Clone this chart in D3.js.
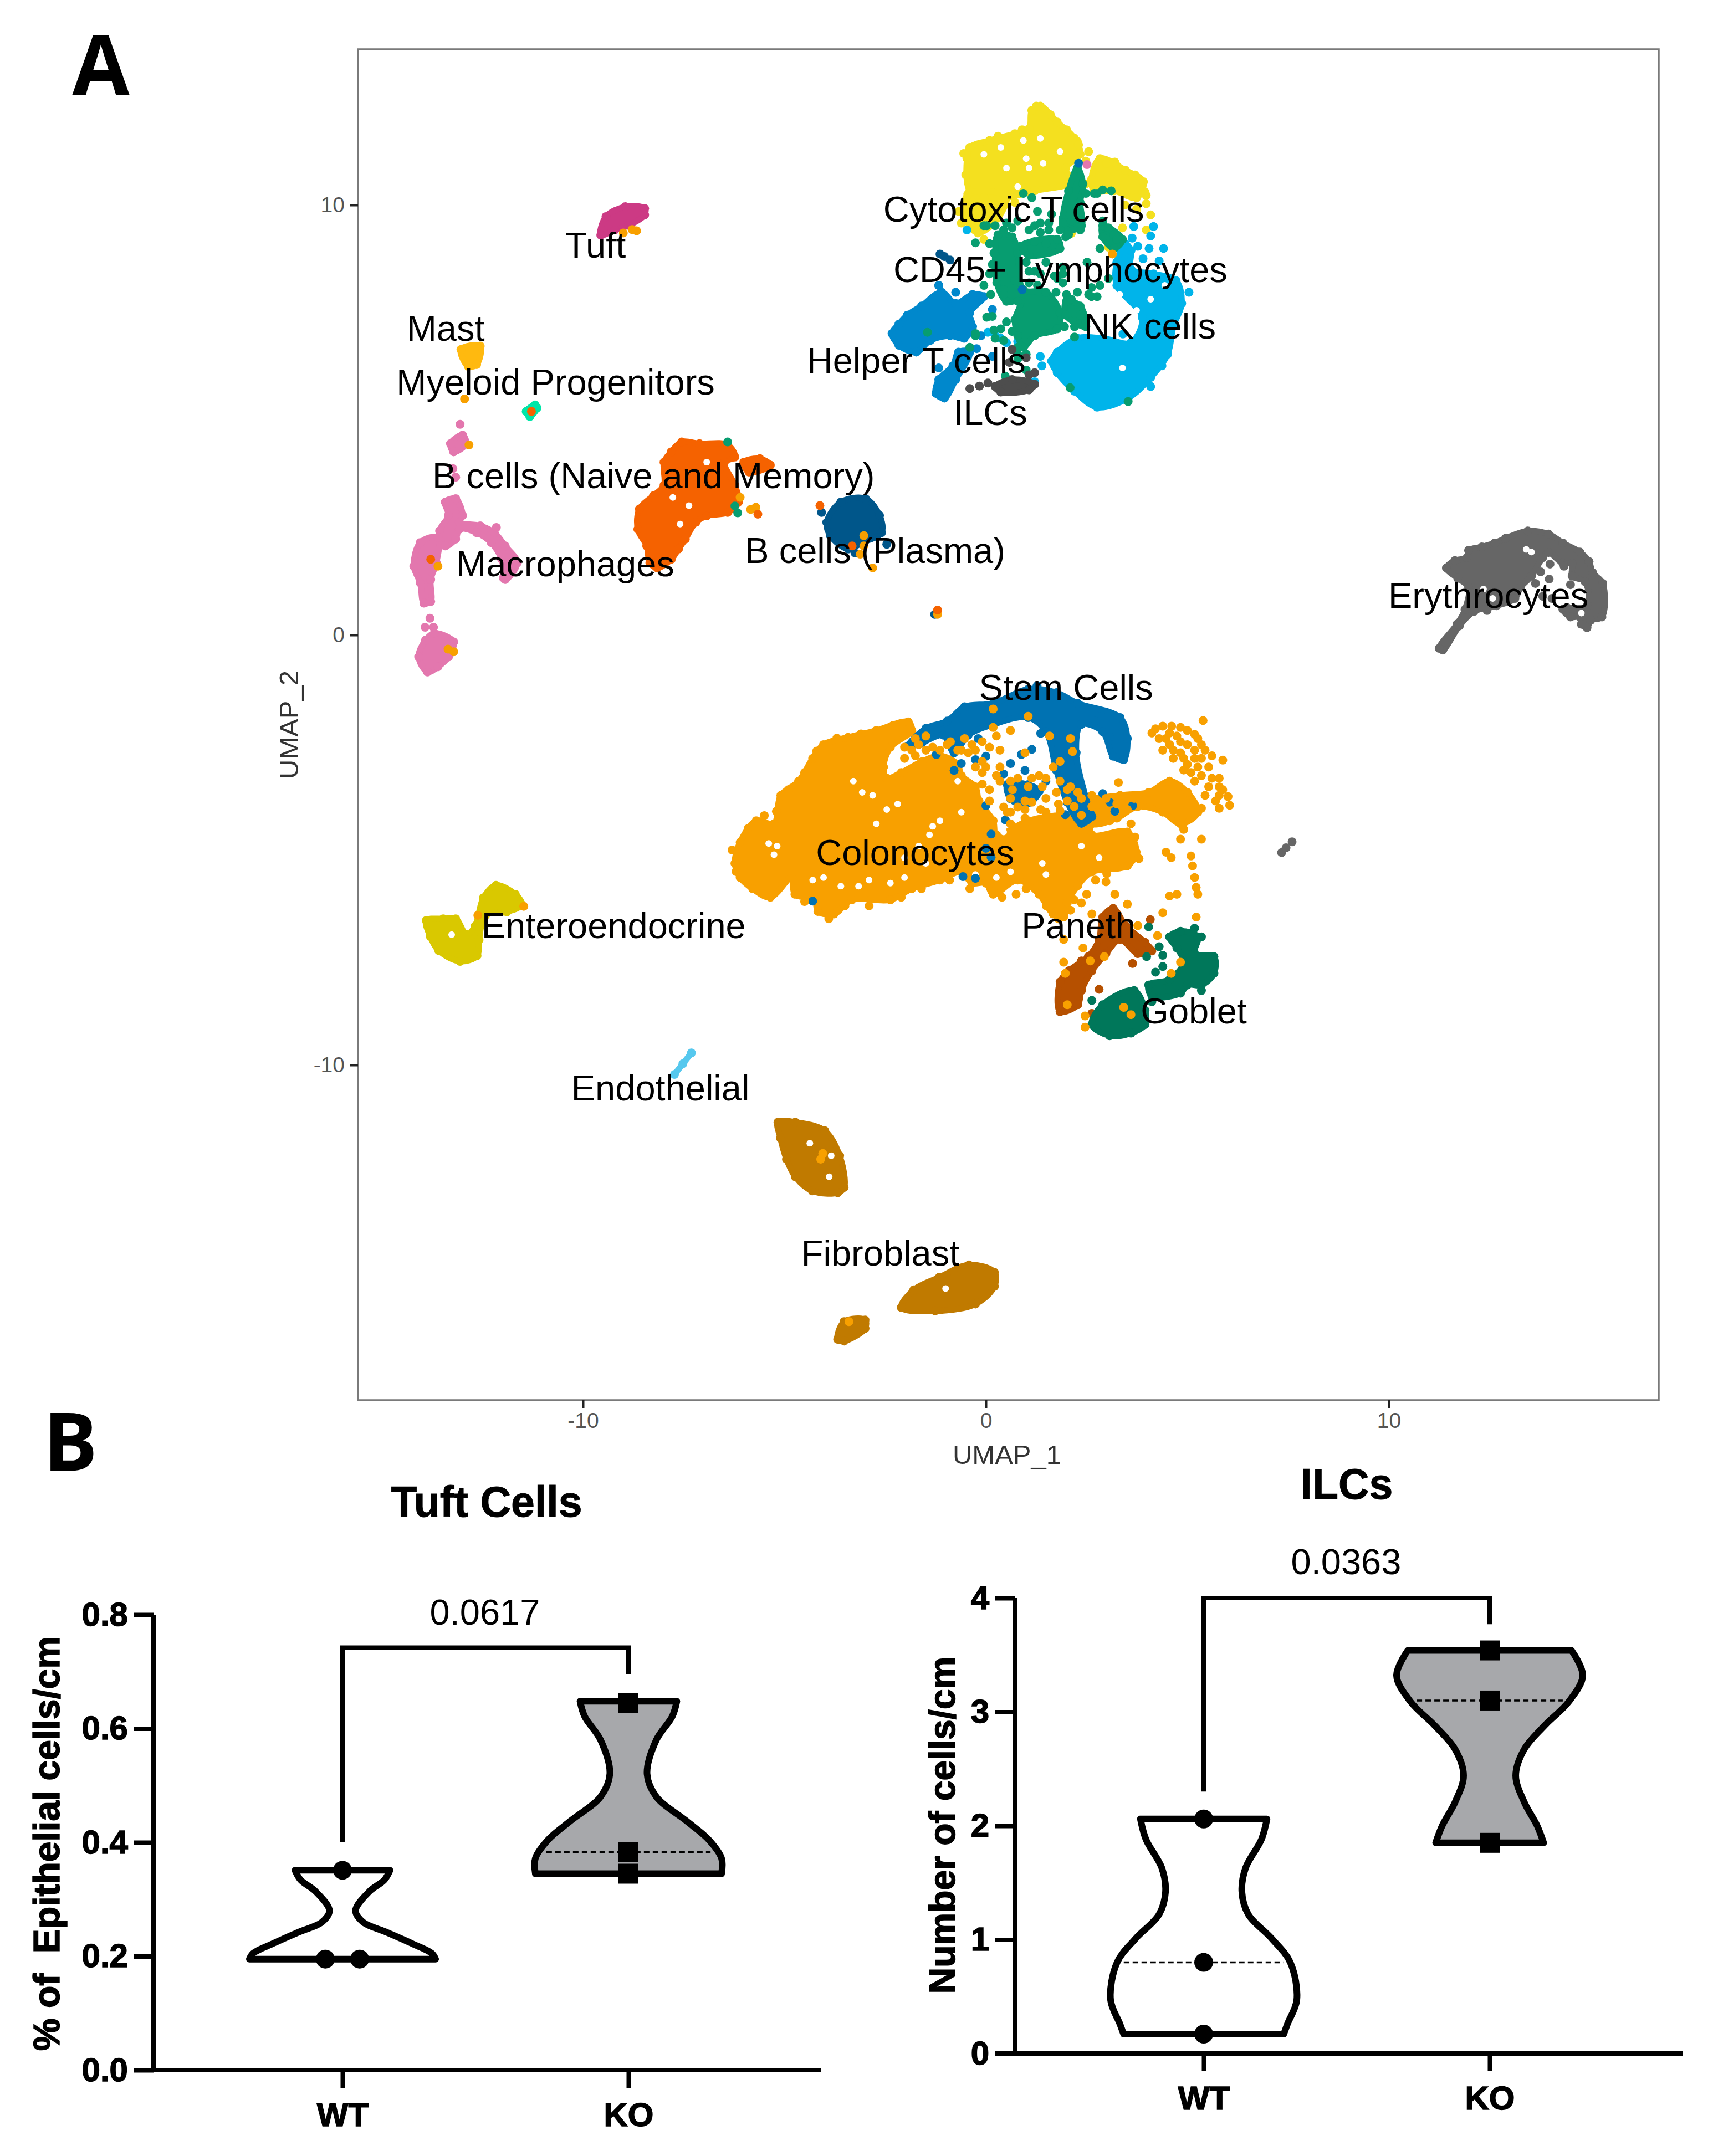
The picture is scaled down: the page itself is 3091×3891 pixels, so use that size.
<!DOCTYPE html>
<html><head><meta charset="utf-8">
<script src="https://cdn.jsdelivr.net/npm/d3@7/dist/d3.min.js"></script>
<style>html,body{margin:0;padding:0;background:#fff}svg{display:block}text{font-family:"Liberation Sans",Arial,sans-serif}</style>
</head><body><div id="chart"></div>
<script>
// ---------- Panel A : cell groups, in UMAP units ----------
const colonocyteCore = [[-6.23,-5.31],[-6.1,-4.82],[-5.7,-4.32],[-5.26,-4.39],[-5.09,-3.73],[-4.65,-3.4],[-4.3,-2.87],[-4.03,-2.55],[-3.42,-2.38],[-2.72,-2.22],[-1.93,-2.02],[-1.84,-2.22],[-2.37,-2.61],[-2.54,-3.07],[-2.46,-3.33],[-2.1,-3.2],[-1.58,-2.94],[-1.14,-2.81],[-0.7,-3.01],[-0.61,-3.27],[-0.26,-3.53],[-0.17,-3.86],[0.18,-4.32],[0.26,-4.65],[1.05,-4.32],[1.93,-4.19],[2.54,-4.26],[2.63,-4.65],[3.51,-4.58],[3.73,-5.05],[3.51,-5.37],[2.63,-5.51],[2.28,-5.83],[2.02,-6.23],[1.93,-6.56],[1.67,-6.49],[1.32,-6.03],[0.79,-5.7],[0.18,-6.03],[0,-5.77],[-0.35,-5.77],[-0.61,-5.51],[-1.14,-5.7],[-1.84,-5.9],[-2.37,-6.16],[-3.33,-6.16],[-3.77,-6.49],[-4.17,-6.43],[-4.25,-6.16],[-4.74,-6.03],[-4.82,-5.64],[-5.35,-6.1],[-5.79,-5.9],[-6.1,-5.64]];
const colonocyteArm = [[2.37,-3.93],[3.33,-3.73],[4.04,-3.66],[4.56,-3.4],[5,-3.66],[5.26,-4.12],[4.83,-4.39],[4.39,-4.12],[3.77,-3.99],[3.25,-4.26],[2.63,-4.39]];
const colonocyteCells = [[4.12,-2.28],[4.39,-2.12],[4.83,-2.15],[5.18,-2.31],[5.35,-2.55],[5.61,-2.81],[5.18,-2.68],[4.83,-2.48],[4.47,-2.41],[4.39,-2.68],[4.65,-2.87],[5,-3.01],[5.35,-2.87],[5.88,-2.91],[5.09,-3.2],[5.61,-3.33],[5.79,-3.53],[6.01,-3.76],[6.05,-3.96],[5.79,-4.03],[5.35,-4.03],[5.39,-1.99],[4.56,-2.28],[4.3,-2.41],[4.65,-2.68],[4.91,-2.87],[5.26,-3.07],[5.53,-3.53],[5.18,-3.4],[5.79,-3.73],
[4.21,-2.18],[4.61,-2.12],[5,-2.22],[5.26,-2.41],[5.44,-2.68],[4.74,-2.35],[5,-2.55],[4.56,-2.55],[4.83,-2.74],[5.18,-2.87],[5.53,-3.07],[5.79,-3.33],[4.91,-3.14],[5.35,-3.27],[5.88,-3.6],[5.7,-3.86],[5.44,-3.73],
[-1.75,-2.41],[-1.49,-2.35],[-1.84,-2.68],[-1.32,-2.61],[-0.96,-2.55],[-0.53,-2.41],[-0.26,-2.68],[0.09,-2.61],[0.18,-2.15],[0.61,-2.22],[1.05,-1.89],[0.35,-3.07],[0.79,-3.33],[1.32,-3.27],[1.67,-3.07],[1.84,-2.94],[0.97,-2.74],[1.58,-2.35],[2.1,-3.53],[1.4,-3.53],[2.02,-3.86],[2.63,-3.73],[1.8,-3.93],[1.14,-3.89],[1.36,-4.06],[0.35,-3.4],[0.66,-3.6],[3.29,-3.43],[0.44,-4],[0.61,-4.39],[2.15,-2.71],[2.1,-2.41],[0.18,-1.72],[-0.26,-3.07],[0,-3.07],[-0.09,-3.47],[-0.44,-2.74],[-0.09,-2.94],[-0.61,-2.68],[-0.88,-2.48],[0.09,-3.6],[0.53,-4.12],[0.79,-4],[0.97,-4.26],[1.49,-3.8],[2.37,-4.19],[2.9,-3.99],[3.07,-4.32],[3.6,-4.39],
[-2.02,-2.61],[-1.67,-2.55],[-1.49,-2.68],[-2.02,-2.87],[-1.75,-2.81],[-1.14,-2.68],[-0.7,-2.68],[-0.35,-2.55],[-0.09,-2.48],[0.26,-2.35],[0.35,-2.68],[-0.09,-3.2],[0.26,-3.27],[0.61,-3.4],[1.05,-3.53],[1.49,-3.33],[1.84,-3.4],[1.75,-3.66],[2.28,-3.66],[2.37,-3.8],[2.02,-3.6],[1.14,-3.33],[0.09,-3.86],[0.61,-3.8],[0.97,-3.86],[0.61,-4.12],[0.97,-4.06],[1.49,-4.12],[1.84,-4.09],[2.19,-3.99],[2.63,-3.99],[2.98,-3.8],[3.25,-3.93],[3.68,-3.8],[3.51,-4.06],
[4.47,-5.05],[4.6,-5.18],[5.09,-5.14],[5.13,-5.37],[5.18,-5.64],[5.22,-5.87],[5.26,-6.03],[4.74,-6.03],[4.56,-6.07],[5.35,-4.75],[4.83,-4.75],[4.91,-4.52],[2.98,-5.74],[3.2,-6.03],[3.51,-6.26],[4.39,-6.46],[5.22,-6.56],[2.63,-6.49],[2.37,-6.23],[2.19,-6.16],[2.5,-6.03],[0.75,-6.03],[2.72,-5.7],[1.93,-7.08],[2.41,-7.28],
[1.93,-7.61],[1.97,-7.87],[2.59,-7.58],[2.94,-7.48],[2.46,-8.86],[2.46,-9.12],[3.6,-8.83],[3.42,-8.66],[4.6,-7.87],[4.83,-7.61],[3.77,-6.76],[4.26,-6.99],[2.02,-8.6],
[-6.3,-5],[-6.2,-5.5],[-5.9,-4.5],[-5.5,-4.2],[-5.2,-4.1],[-4.9,-3.6],[-4.5,-3.2],[-4.2,-2.7],[-3.7,-2.4],[-3.1,-2.3],[-2.3,-2.1],[-4.5,-6.2],[-3.9,-6.6],[-3.5,-6.3],[-2.9,-6.3],[-2.1,-6.1],[-1.6,-5.9],[-0.9,-5.7],[-0.4,-5.9],[0.4,-6.1],[1,-5.9],[1.5,-6.3],[2.1,-6.4],[1.8,-6.6],[3,-5.55],[3.8,-5.2],[3.7,-4.7]];
const colonocyteGaps = [[-1.32,-4.45],[-1.14,-4.32],[-2.81,-3.73],[-3.07,-3.66],[-5.18,-4.91],[-5.39,-4.85],[-5.26,-5.11],[-4.3,-5.7],[-4.03,-5.64],[-3.6,-5.84],[-2.9,-5.7],[-3.16,-5.84],[-2.37,-5.77],[-2.02,-5.64],[-0.7,-3.4],[0.44,-4.58],[1.4,-5.31],[2.37,-4.91],[2.81,-5.18],[-2.02,-5.18],[-1.49,-5.31],[-0.26,-5.57],[0.26,-5.64],[-2.46,-4.06],[-2.72,-4.39],[-3.29,-3.4],[-1.4,-4.65],[-1.67,-4.91],[0.61,-5.51],[1.49,-5.57],[-0.61,-4.12],[-2.19,-3.93]];
const stemCore = [[-1.93,-2.58],[-1.49,-2.17],[-0.96,-2],[-0.53,-1.67],[0.18,-1.59],[1.05,-1.26],[1.75,-1.34],[2.28,-1.59],[3.33,-1.92],[3.51,-2.41],[3.42,-2.9],[3.16,-2.82],[2.9,-2.25],[2.37,-2.08],[2.24,-2.74],[2.54,-3.97],[2.63,-4.22],[2.37,-4.38],[2.02,-3.89],[1.75,-3.15],[1.49,-2.25],[1.05,-1.92],[0.18,-2.08],[-0.44,-2.33],[-0.79,-2.74],[-1.05,-2.33],[-1.58,-2.5]];
const stemPatch = [[0.53,-3.48],[1.05,-3.48],[1.32,-3.64],[0.97,-3.97],[0.61,-3.81]];
const stemCells = [[-0.19,-2.41],[0,-2.82],[-0.26,-2.9],[-0.61,-2.99],[-0.79,-3.15],[0.44,-3.23],[0.61,-2.99],[0.88,-2.78],[1.14,-2.66],[1.36,-2.29],[1.49,-3.4],[0.97,-3.15],[0,-3.97],[0.48,-4.3],[2.9,-3.69],[3.07,-3.89],[3.2,-4.1],[3.64,-3.97],[0.13,-4.63],[0,-4.96],[0.13,-5.17],[-0.57,-5.62],[-0.26,-5.66],[-4.3,-6.19],[-1.23,-2.78],[1.97,-4.18],[1.27,-1.18],[2.72,-2],[3.07,-2.37],[0.9,8.03],[2.3,10.97]];
const gobletBase = [[2.63,-9.06],[2.9,-8.6],[3.68,-8.27],[3.95,-8.73],[3.95,-9.06],[3.6,-9.26],[3.07,-9.32]];
const gobletRight = [[4.56,-7.02],[4.83,-6.89],[5.26,-7.02],[5.18,-7.41],[5.66,-7.48],[5.66,-7.87],[5.35,-8.14],[5,-8.14],[4.83,-8.33],[4.12,-8.4],[4.04,-8.14],[4.56,-8.01],[4.91,-7.61],[4.74,-7.28]];
const gobletCells = [[3.99,-7.48],[4.39,-7.45],[4.3,-7.25],[4.21,-7.84],[4.39,-7.71],[5.18,-6.82],[4.04,-6.79],[4.12,-8.53],[2.63,-8.5],[5.35,-7.02],[5.35,-8.27]];
const panethCore = [[2.9,-6.56],[3.16,-6.36],[3.47,-6.76],[3.95,-7.15],[4.12,-7.35],[3.77,-7.41],[3.33,-7.08],[2.98,-7.41],[2.63,-7.81],[2.37,-8.27],[2.28,-8.6],[1.84,-8.76],[1.84,-8.07],[2.06,-7.81],[2.54,-7.48],[2.81,-7.08]];
const panethCells = [[4.08,-6.62],[3.64,-7.64],[2.81,-8.24],[2.63,-8.8],[3.16,-8.57],[2.37,-7.58]];
const cytotoxicCore = [[1.35,12.3],[1.77,11.93],[2.19,11.56],[2.34,11.18],[1.98,10.86],[2.12,10.54],[1.21,10.33],[0.51,10.17],[-0.05,10.17],[-0.4,10.33],[-0.47,11.08],[-0.4,11.34],[0.09,11.5],[0.72,11.66],[1.07,11.77],[1.14,12.2]];
const cytotoxicRight = [[2.83,11.08],[3.46,10.81],[3.91,10.54],[3.74,10.17],[3.18,10.33],[2.69,10.33],[2.62,10.59]];
const cytotoxicLower = [[-0.45,10.25],[0.5,10.2],[0.3,9.7],[-0.2,9.35],[-0.5,9.7]];
const cytotoxicCells = [[-0.68,9.85],[-0.61,9.58],[-0.19,9.42],[-0.05,9.2],[4.09,9.77],[3.98,9.42],[3.39,9.47],[3.98,10.22],[3.98,10.03],[3.04,9.02],[2.12,9.34],[2.55,11.24],[2.27,11.48],[3,10.97],[3.25,10.91],[-0.33,10.06],[0.37,9.95],[0.72,10.06],[-0.54,10],[-0.12,9.63],[2.48,11.02],[2.48,10.49],[0.1,9.75],[-0.4,9.8],[3.74,9.9],[3.45,10],
[0.3,11.6],[0.9,11.75],[1.25,12.3],[1.6,12.1],[2,11.75],[2.3,11.4],[-0.5,10.7],[-0.55,11.2],[3.2,11],[3.7,10.7],[3.95,10.3]];
const cytotoxicGaps = [[1,11.08],[1.35,11.55],[0.93,11.5],[0.51,10.86],[1.07,10.86],[-0.05,11.18],[0.79,10.43],[1.42,10.97],[0.37,11.34],[1.84,11.24]];
const lymphocyteCore = [[0.3,9.31],[0.65,9.26],[0.79,8.88],[0.93,8.03],[1.49,7.97],[1.84,7.49],[1.77,7.12],[1.21,6.96],[0.93,6.69],[0.79,6.96],[0.72,7.33],[0.86,7.76],[0.51,7.76],[0.27,8.19],[0.23,8.88]];
const lymphocyteStrand = [[2.27,10.86],[2.41,10.49],[2.34,10.06],[2.37,9.52],[1.98,9.42],[1.91,9.69],[2.05,10.33]];
const lymphocyteRing = [[2.9,9.52],[3.39,9.2],[3.18,8.99],[2.9,9.26]];
const lymphocyteBridge = [[0.86,9.04],[1.77,9.2],[1.84,8.99],[1.07,8.83]];
const lymphocyteLower = [[2,7.76],[2.34,7.65],[2.48,7.17],[1.98,7.44]];
const lymphocyteCells = [[0.93,10.27],[1.14,10.17],[2.69,10.27],[2.9,10.35],[1.35,9.58],[1.56,9.42],[1.98,9.26],[0.65,9.47],[-0.05,9.52],[-0.26,9.12],[0.2,8.88],[-0.05,8.13],[0.12,7.92],[0.02,7.39],[0.16,7.41],[1.74,7.97],[2.12,7.81],[2.55,7.92],[2.83,8.13],[3.04,8.29],[2.62,8.08],[1.95,7.17],[2.2,6.93],[0.37,7.12],[-0.26,6.96],[-1.45,7.04],[-0.4,6.69],[0.51,7.28],[0.2,7.09],[2.09,5.75],[3.53,5.43],[1.21,8.46],[1.77,8.29],[1.49,8.67],[1.07,8.19],[1.35,9.36],[1.91,8.56],[1,8.67],[0.51,9.58],[1.28,9.85],[1.63,9.79],[0.79,9.63],[2.83,8.99],[2.51,8.67],[0.79,6.42],[1,6.16],[0.48,6.02],
[1.07,9.42],[1.21,9.15],[1.49,9.1],[0.93,8.99],[0.23,9.52],[0.44,9.42],[0.02,9.52],[0.09,9.1],[0.16,8.62],[0.09,8.4],[0.44,8.03],[0.72,8.24],[1.07,8.46],[1.35,8.4],[1.7,8.35],[1.91,8.4],[2.62,7.87],[2.27,7.97],[2,7.92],[2.76,7.87],[3.18,9.31],[3.04,9.47],[2.9,9.63],[3.25,9.2],[2.48,10.27],[2.76,10.27],[3.11,10.33],[1.91,9.58],[2.12,9.63],[1.84,9.42],[2.05,9.31],[2.34,9.42],[1.56,9.58],[1.21,9.52],[1.91,8.19],[1.28,8.13],[0.79,7.76],[0.44,7.92],[2.34,7.44],[2.48,7.28],[2.2,7.17],[0.23,6.9],[0.44,6.85],[0.65,7.06],[0.79,6.69],[1,6.53],[0.79,6.53],[-0.26,7.01]];
const nkCore = [[1.63,6.37],[1.77,6.58],[2.27,6.9],[2.9,6.9],[3.6,6.8],[3.88,7.39],[3.25,8.13],[3.25,8.67],[3.46,9.1],[3.6,8.94],[3.6,8.51],[4.16,8.4],[4.72,8.24],[4.86,7.71],[4.65,7.17],[4.51,6.53],[4.09,5.99],[3.53,5.51],[2.76,5.3],[2.2,5.67],[1.77,6.1]];
const nkCells = [[3.67,9.5],[4.16,9.5],[4.09,9.28],[3.63,9.23],[3.77,9.04],[4.05,8.99],[4.41,8.99],[5.04,7.97],[-0.47,9.42],[0.05,7.04],[0.37,6.9],[0.51,6.8],[1.35,6.48],[1.39,6.26],[1.21,5.89],[4.37,6.26],[4.09,5.78],[0.79,6.82],[0.23,6.96],[3.4,7],[4.3,8.7],[3.9,8.75]];
const nkGaps = [[4.09,7.81],[3.74,7.55],[3.39,6.21],[4.44,8.13],[3.32,7.92]];
const helperCore = [[-2.33,7.01],[-2.16,7.23],[-1.95,7.44],[-1.6,7.65],[-1.1,7.97],[-0.75,7.71],[-0.33,7.92],[-0.05,7.87],[-0.4,7.49],[-0.33,7.17],[-0.54,6.9],[-0.89,6.96],[-1.38,6.85],[-1.73,6.58],[-2.16,6.74]];
const helperStrand = [[-1.17,5.94],[-0.82,6.26],[-0.68,6.58],[-0.4,6.58],[-0.75,5.94],[-1.03,5.51],[-1.24,5.62]];
const helperCells = [[-1.17,8.13],[-0.75,7.97],[0.16,7.57],[-0.23,6.66],[0.16,6.48],[-0.12,6.96],[-1.17,6.21]];
const ilcCore = [[0.23,5.78],[0.65,5.94],[1.21,5.83],[1.07,5.7],[0.37,5.65]];
const ilcCells = [[-0.4,5.73],[-0.16,5.79],[0.05,5.86],[1.21,6.1],[1,6.45],[0.65,6.64],[0.58,6.34],[1.07,6.05]];
const tuftCore = [[-9.56,9.3],[-9.43,9.73],[-8.95,9.96],[-8.47,9.92],[-8.47,9.77],[-8.86,9.53],[-9.21,9.42]];
const mastCore = [[-13.03,6.64],[-12.55,6.72],[-12.64,6.29],[-12.85,6.25]];
const myeloidCore = [[-11.41,5.2],[-11.19,5.35],[-11.14,5.28],[-11.32,5.08]];
const macrophageTop = [[-13.29,4.45],[-12.99,4.65],[-12.9,4.45],[-13.21,4.26]];
const macrophageArc = [[-13.42,3.09],[-13.16,3.17],[-12.99,2.78],[-13.07,2.62],[-12.55,2.54],[-12.2,2.38],[-11.93,2.07],[-11.63,1.68],[-11.93,1.29],[-12.02,1.76],[-12.28,2.15],[-12.64,2.38],[-13.07,2.46],[-13.16,2.23],[-13.42,2.07],[-13.56,2.42],[-13.34,2.78]];
const macrophageColumn = [[-14.04,2.15],[-13.6,2.27],[-13.64,1.68],[-13.78,1.29],[-13.78,0.78],[-13.95,0.74],[-14.04,1.21],[-14.2,1.6]];
const macrophageBase = [[-14.08,-0.51],[-13.91,-0.12],[-13.69,0.04],[-13.21,-0.16],[-13.34,-0.51],[-13.6,-0.74],[-13.86,-0.86]];
const macrophageCells = [[-13.05,4.9],[-13.16,3.67],[-13.23,3.87],[-12.15,2.5],[-11.98,1.33],[-13.8,0.39],[-13.92,0.18],[-13.71,0.18]];
const bNaiveCore = [[-7.81,4.26],[-7.55,4.49],[-7.11,4.45],[-6.41,4.42],[-6.23,4.14],[-6.49,4.02],[-6.23,3.48],[-6.14,3.09],[-6.41,2.85],[-6.93,2.77],[-7.2,2.62],[-7.46,2.23],[-7.63,2],[-7.81,1.76],[-8.16,1.56],[-8.34,1.68],[-8.42,2.07],[-8.64,2.46],[-8.6,2.93],[-8.25,3.24],[-7.99,3.48],[-7.99,4.02]];
const bNaivePatch = [[-6.01,4.02],[-5.61,4.1],[-5.35,3.95],[-5.88,3.79]];
const bNaiveGaps = [[-7.37,3.01],[-7.59,2.58],[-6.93,4.02],[-7.77,3.2]];
const bNaiveCells = [[-5.66,2.81],[-4.12,3.01],[-3.32,2.07],[-13.78,1.76],[-11.28,5.2],[-1.2,0.58]];
const plasmaCore = [[-3.95,2.62],[-3.6,3.09],[-2.99,3.17],[-2.64,2.78],[-2.59,2.38],[-3.07,2.15],[-3.42,2],[-3.86,2.31]];
const plasmaCells = [[-4.08,2.85],[-2.46,2.11],[-3.25,1.91],[-1.03,8.8],[-1.14,8.86],[-0.89,8.72],[-1.17,8.13],[-1.27,0.48]];
const strayColonocytes = [[-9,9.35],[-8.78,9.43],[-8.67,9.4],[-12.94,5.49],[-12.83,4.42],[-13.6,1.6],[-13.21,-0.39],[-13.35,-0.33],[-5.84,2.92],[-5.71,2.97],[-6.1,3.2],[-3.03,2.31],[-3.03,2.07],[-3.12,1.88],[-2.81,1.56],[-1.2,0.48],[-11.47,-6.31],[-12.61,-6.52],[-4.1,-12.19],[-4.05,-12.06],[3.14,8.86],[-3.4,-15.97]];
const strayLymphocytes = [[-6.41,4.49],[-6.16,2.84],[-6.23,3]];
const strayMacrophages = [[2.51,10.94]];
const enteroCore = [[-13.89,-6.64],[-13.47,-6.6],[-13.16,-6.6],[-12.89,-6.97],[-12.68,-6.77],[-12.47,-6.11],[-12.16,-5.82],[-11.68,-6.03],[-11.52,-6.27],[-11.89,-6.44],[-12.42,-6.52],[-12.58,-7.09],[-12.63,-7.46],[-13.05,-7.59],[-13.58,-7.34],[-13.79,-7.01]];
const enteroGaps = [[-13.26,-6.97]];
const endothelialCore = [[-7.73,-10.22],[-7.52,-9.97],[-7.31,-9.72]];
const fibroUpper = [[-5.16,-11.33],[-4.73,-11.33],[-4,-11.53],[-3.63,-12.11],[-3.52,-12.85],[-3.68,-12.97],[-4.31,-12.93],[-4.73,-12.6],[-4.95,-12.19],[-5.1,-11.7]];
const fibroMiddle = [[-2.1,-15.64],[-1.79,-15.23],[-1.16,-14.94],[-0.42,-14.65],[0.21,-14.82],[0.21,-15.15],[-0.26,-15.56],[-1.26,-15.72]];
const fibroLower = [[-3.68,-16.38],[-3.52,-15.97],[-3,-15.93],[-3,-16.13],[-3.52,-16.42]];
const fibroGaps = [[-4.37,-11.82],[-3.84,-12.11],[-3.89,-12.6],[-1,-15.2]];
const erythroCore = [[11.43,1.56],[11.64,1.73],[11.94,1.8],[11.98,1.97],[12.31,2.05],[12.63,2.14],[12.9,2.25],[13.45,2.42],[13.96,2.35],[14.32,2.14],[14.74,1.93],[14.97,1.71],[15.06,1.45],[15.31,1.2],[15.29,0.42],[15.01,0.34],[14.92,0.17],[14.78,0.25],[14.74,0.42],[14.51,0.42],[14.32,0.6],[14.92,0.68],[14.87,1.24],[14.55,1.37],[14.55,1.67],[14.32,1.67],[13.96,1.92],[13.82,1.8],[13.54,1.37],[13.27,1.11],[13.13,0.85],[12.67,0.68],[12.12,0.55],[11.75,0.21],[11.34,-0.35],[11.25,-0.31],[11.69,0.25],[11.89,0.59],[11.98,1.11],[11.71,1.32]];
const erythroCells = [[14,1.65],[13.77,1.47],[13.98,1.3],[13.64,1.2],[14.51,1.17],[14.35,1.6],[12.44,0.57],[14.05,0.85],[14.42,0.64],[13.82,0.9],[7.34,-5.06],[7.6,-4.81],[7.45,-4.95]];
const erythroGaps = [[13.54,1.93],[13.41,1.99],[14.78,0.51],[12.35,1.07],[12.58,0.85]];

const clusterNames = ["Erythrocytes","Fibroblast","Enteroendocrine","Endothelial","Macrophages","Mast","Myeloid Progenitors","Tuft","B cells (Naive and Memory)","B cells (Plasma)","Cytotoxic T cells","NK cells","Helper T cells","CD45+ Lymphocytes","ILCs","Colonocytes","Stem Cells","Paneth","Goblet"];
const clusterColors = ["#666666","#C07A00","#D9C800","#56C8EE","#E377AE","#FFB90F","#00E6A8","#CC3A84","#F56200","#00568A","#F4E01F","#00B4EA","#0088CC","#079D70","#4D4D4D","#F8A000","#0072B2","#B65000","#00775A"];
const clusterCores = [[erythroCore],[fibroUpper,fibroMiddle,fibroLower],[enteroCore],[endothelialCore],[macrophageTop,macrophageArc,macrophageColumn,macrophageBase],[mastCore],[myeloidCore],[tuftCore],[bNaiveCore,bNaivePatch],[plasmaCore],[cytotoxicCore,cytotoxicRight,cytotoxicLower],[nkCore],[helperCore,helperStrand],[lymphocyteCore,lymphocyteStrand,lymphocyteRing,lymphocyteBridge,lymphocyteLower],[ilcCore],[colonocyteCore,colonocyteArm],[stemCore,stemPatch],[panethCore],[gobletBase,gobletRight]];
const clusterCells = [erythroCells,[],[],[],macrophageCells,[],[],[],[],plasmaCells,cytotoxicCells,nkCells,helperCells,lymphocyteCells,ilcCells,[],stemCells,panethCells,gobletCells];
const clusterGaps = [erythroGaps,fibroGaps,enteroGaps,[],[],[],[],[],bNaiveGaps,[],cytotoxicGaps,nkGaps,[],[],[],colonocyteGaps,[],[],[]];
const overlayCells = [[colonocyteCells,"#F8A000"],[strayColonocytes,"#F8A000"],[bNaiveCells,"#F56200"],[strayLymphocytes,"#079D70"],[strayMacrophages,"#E377AE"]];

const labelNames = ["Cytotoxic T cells","CD45+ Lymphocytes","NK cells","Helper T cells","ILCs","Tuft","Mast","Myeloid Progenitors","B cells (Naive and Memory)","Macrophages","B cells (Plasma)","Erythrocytes","Stem Cells","Colonocytes","Paneth","Goblet","Enteroendocrine","Endothelial","Fibroblast"];
const labelX = [0.69,1.85,4.07,-1.73,0.11,-9.69,-13.41,-10.68,-8.25,-10.44,-2.75,12.47,1.99,-1.76,2.3,5.16,-9.24,-8.08,-2.62];
const labelY = [9.9,8.5,7.19,6.39,5.17,9.07,7.13,5.88,3.7,1.65,1.97,0.92,-1.22,-5.06,-6.76,-8.74,-6.76,-10.53,-14.37];
const umapTicks = [-10,0,10];

// ---------- Panel B : violins, [value, relative density] ----------
const tuftWTProfile = [[0.351,0.51],[0.334,0.45],[0.314,0.29],[0.28,0.14],[0.26,0.22],[0.243,0.46],[0.222,0.75],[0.205,0.96],[0.195,1]];
const tuftKOProfile = [[0.648,0.52],[0.621,0.47],[0.58,0.3],[0.52,0.2],[0.48,0.3],[0.438,0.62],[0.405,0.86],[0.372,1],[0.345,1]];
const ilcWTProfile = [[2.06,0.68],[1.88,0.62],[1.63,0.45],[1.42,0.41],[1.22,0.48],[1.01,0.73],[0.8,0.93],[0.47,1],[0.26,0.9],[0.17,0.86]];
const ilcKOProfile = [[3.54,0.88],[3.32,1],[3.09,0.85],[2.88,0.59],[2.67,0.37],[2.44,0.28],[2.21,0.37],[2,0.51],[1.85,0.58]];
const tuftWTValues = [0.351,0.195,0.195];
const tuftKOValues = [0.645,0.383,0.345];
const ilcWTValues = [2.06,0.8,0.17];
const ilcKOValues = [3.54,3.1,1.85];
const groupNames = ["WT","KO"];
const tuftTicks = [0,0.2,0.4,0.6,0.8];
const ilcTicks = [0,1,2,3,4];

const W=3091,H=3891;
const svg=d3.select("#chart").append("svg").attr("width",W).attr("height",H).attr("viewBox",`0 0 ${W} ${H}`);
svg.append("rect").attr("width",W).attr("height",H).attr("fill","#fff");

// Panel A
const frame={l:646,r:2993,t:89,b:2527};
const ux=d3.scaleLinear().domain([(frame.l-1779)/72.7,(frame.r-1779)/72.7]).range([frame.l,frame.r]);
const uy=d3.scaleLinear().domain([(1146-frame.t)/77.6,(1146-frame.b)/77.6]).range([frame.t,frame.b]);
const R=8;
const A=svg.append("g");
const closed=d3.line().x(d=>ux(d[0])).y(d=>uy(d[1])).curve(d3.curveCatmullRomClosed.alpha(0.5));
const dots=(g,data,color,r=R)=>g.selectAll(null).data(data).join("circle").attr("cx",d=>ux(d[0])).attr("cy",d=>uy(d[1])).attr("r",r).attr("fill",color);
clusterNames.forEach((n,i)=>{
  const g=A.append("g").attr("data-cluster",n);
  g.selectAll("path").data(clusterCores[i]).join("path").attr("d",closed).attr("fill",clusterColors[i]).attr("stroke",clusterColors[i]).attr("stroke-width",2*R-5).attr("stroke-linejoin","round");
  clusterCores[i].forEach(c=>dots(g,c,clusterColors[i]));
  dots(g,clusterGaps[i],"#fff",6);
  dots(g,clusterCells[i],clusterColors[i]);
});
overlayCells.forEach(([c,col])=>dots(A,c,col));

A.append("rect").attr("x",frame.l).attr("y",frame.t).attr("width",frame.r-frame.l).attr("height",frame.b-frame.t).attr("fill","none").attr("stroke","#7A7A7A").attr("stroke-width",3.5);
const umapX=A.append("g").attr("transform",`translate(0,${frame.b})`).call(d3.axisBottom(ux).tickValues(umapTicks).tickSize(14).tickPadding(8).tickFormat(d3.format("d")));
const umapY=A.append("g").attr("transform",`translate(${frame.l},0)`).call(d3.axisLeft(uy).tickValues(umapTicks).tickSize(14).tickPadding(10).tickFormat(d3.format("d")));
[umapX,umapY].forEach(g=>{g.select(".domain").remove();g.selectAll("line").attr("stroke","#222").attr("stroke-width",4);g.selectAll("text").attr("font-size",39).attr("fill","#555").style("font-family","'Liberation Sans'").text(d=>d<0?"-"+Math.abs(d):d);});
A.append("text").attr("x",1817).attr("y",2625).attr("text-anchor","middle").attr("dominant-baseline","central").attr("font-size",49).attr("fill","#333").text("UMAP_1");
A.append("text").attr("transform","translate(521,1308) rotate(-90)").attr("text-anchor","middle").attr("dominant-baseline","central").attr("font-size",49).attr("fill","#333").text("UMAP_2");
A.selectAll(".lab").data(labelNames).join("text").attr("class","lab").attr("x",(d,i)=>ux(labelX[i])).attr("y",(d,i)=>uy(labelY[i])).attr("text-anchor","middle").attr("dominant-baseline","central").attr("font-size",65).attr("fill","#000").text(d=>d);

svg.append("text").attr("x",182).attr("y",172).attr("text-anchor","middle").attr("font-size",150).attr("font-weight",700).style("font-family","'Open Sans'").text("A");
svg.append("text").attr("x",127).attr("y",2654).attr("text-anchor","middle").attr("font-size",146).attr("font-weight",700).style("font-family","'Open Sans'").text("B");

// Panel B
function violinPanel(o){
  const g=svg.append("g");
  const y=d3.scaleLinear().domain(o.ydomain).range(o.yrange);
  const x=d3.scalePoint().domain(groupNames).range(o.xrange);
  const wScale=d3.scaleLinear().domain([0,1]).range([0,o.maxHalf]);
  [0,1].forEach(i=>{
    const prof=o.profiles[i], cx=x(groupNames[i]), fill=i?"#A7A8AB":"#fff";
    const area=d3.area().y(d=>y(d[0])).x0(d=>cx-wScale(d[1])).x1(d=>cx+wScale(d[1])).curve(d3.curveCatmullRom.alpha(0.5));
    g.append("path").attr("d",area(prof)).attr("fill",fill).attr("stroke","#000").attr("stroke-width",12).attr("stroke-linejoin","round");
    const med=d3.median(o.values[i]);
    const sorted=prof.slice().reverse();
    const hw=wScale(d3.scaleLinear().domain(sorted.map(d=>d[0])).range(sorted.map(d=>d[1]))(med))-12;
    g.append("line").attr("x1",cx-hw).attr("x2",cx+hw).attr("y1",y(med)).attr("y2",y(med)).attr("stroke","#000").attr("stroke-width",3.5).attr("stroke-dasharray","10 6");
    const vals=o.values[i];
    vals.forEach((v,j)=>{
      const same=vals.filter(w=>w===v), k=same.length>1?(vals.slice(0,j).filter(w=>w===v).length?1:-1):0;
      const px=cx+k*o.swarm;
      if(i===0) g.append("circle").attr("cx",px).attr("cy",y(v)).attr("r",17).attr("fill","#000");
      else g.append("rect").attr("x",px-18).attr("y",y(v)-18).attr("width",36).attr("height",36).attr("fill","#000");
    });
  });
  // axes
  const ya=g.append("g").attr("transform",`translate(${o.axisX},0)`).call(d3.axisLeft(y).tickValues(o.ticks).tickSize(36).tickPadding(10).tickFormat(o.fmt));
  const xa=g.append("g").attr("transform",`translate(0,${y(0)})`).call(d3.axisBottom(x).tickSize(32).tickPadding(26));
  xa.select(".domain").attr("d",`M${o.axisStart},0H${o.axisEnd}`);
  [ya,xa].forEach(a=>{a.select(".domain").attr("stroke","#000").attr("stroke-width",8);a.selectAll("line").attr("stroke","#000").attr("stroke-width",8);a.selectAll("text").attr("font-size",60).attr("font-weight",700).attr("fill","#000").attr("stroke","#000").attr("stroke-width",1.5).style("font-family","'Liberation Sans'");});
  ya.select(".domain").attr("d",`M0,${y(o.ydomain[1])}V${y(0)}`);
  // bracket
  const [ylt,ytop,yrt]=o.bracket;
  g.append("path").attr("d",`M${x("WT")},${y(ylt)}V${y(ytop)}H${x("KO")}V${y(yrt)}`).attr("fill","none").attr("stroke","#000").attr("stroke-width",8);
  g.append("text").attr("x",o.pX).attr("y",o.pY).attr("text-anchor","middle").attr("dominant-baseline","central").attr("font-size",65).text(o.p);
  g.append("text").attr("x",o.tX).attr("y",o.tY).attr("text-anchor","middle").attr("dominant-baseline","central").attr("font-size",77).attr("font-weight",700).attr("stroke","#000").attr("stroke-width",1).text(o.title);
  g.append("text").attr("transform",`translate(${o.yLabX},${o.yLabY}) rotate(-90)`).attr("text-anchor","middle").attr("dominant-baseline","central").attr("font-size",66).attr("font-weight",700).attr("stroke","#000").attr("stroke-width",1.5).style("white-space","pre").text(o.ylabel);
}
violinPanel({ydomain:[0,0.8],yrange:[3736,2914],xrange:[618,1134],axisX:277,axisStart:242,axisEnd:1481,profiles:[tuftWTProfile,tuftKOProfile],values:[tuftWTValues,tuftKOValues],maxHalf:168,swarm:31,ticks:tuftTicks,fmt:d3.format(".1f"),bracket:[0.40,0.742,0.695],p:"0.0617",pX:875,pY:2909,title:"Tuft Cells",tX:878,tY:2710,ylabel:"% of  Epithelial cells/cm",yLabX:84,yLabY:3327});
violinPanel({ydomain:[0,4],yrange:[3706,2884],xrange:[2172,2688],axisX:1831,axisStart:1795,axisEnd:3036,profiles:[ilcWTProfile,ilcKOProfile],values:[ilcWTValues,ilcKOValues],maxHalf:168,swarm:31,ticks:ilcTicks,fmt:d3.format("d"),bracket:[2.3,4,3.77],p:"0.0363",pX:2429,pY:2818,title:"ILCs",tX:2430,tY:2678,ylabel:"Number of cells/cm",yLabX:1700,yLabY:3294});
</script></body></html>
